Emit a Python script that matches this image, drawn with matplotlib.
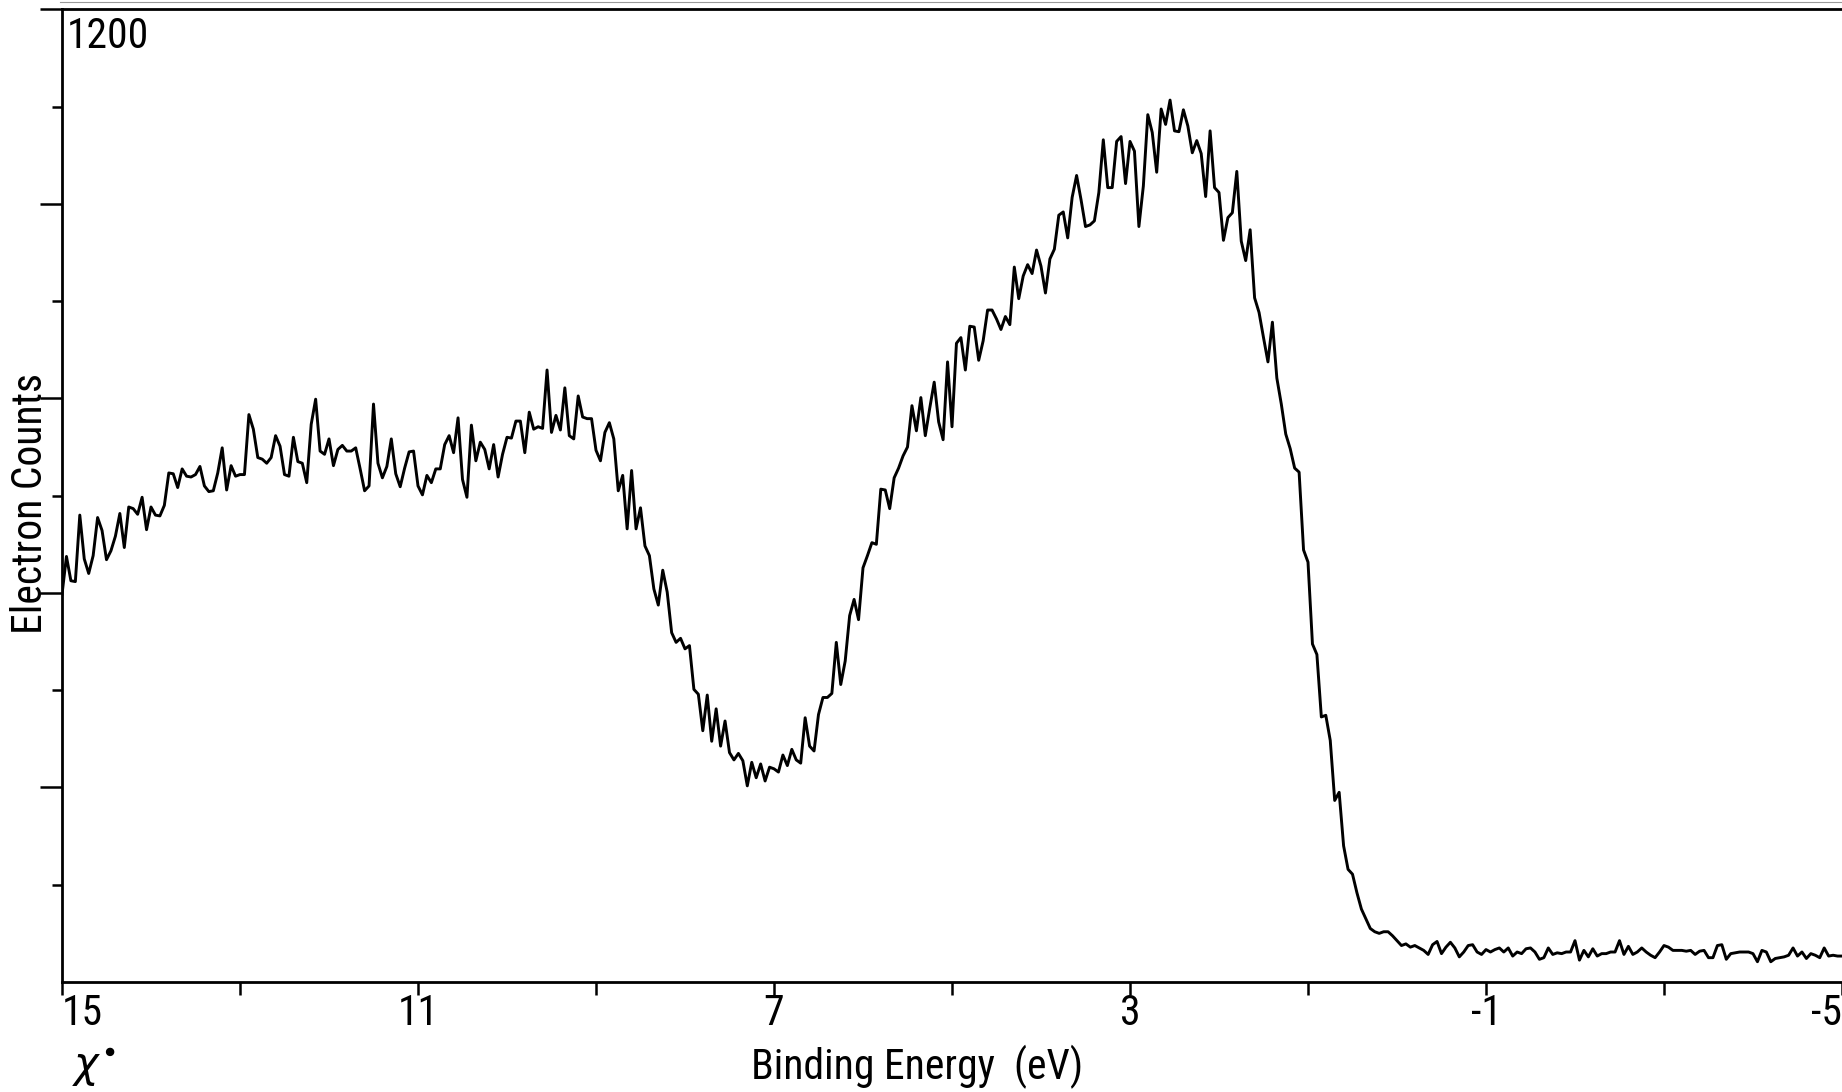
#!/usr/bin/env python3

import numpy as np
import matplotlib
matplotlib.use("Agg")
import matplotlib.pyplot as plt
from matplotlib import font_manager
from matplotlib.lines import Line2D

# spectrum: counts, one point every 0.05 eV from 15 eV down to -5 eV
START_EV = 15.0
STEP_EV = 0.05
counts = [
    478, 525, 495, 494, 576, 522, 504, 526, 573, 557,
    521, 532, 550, 578, 536, 586, 584, 577, 598, 558,
    586, 576, 575, 588, 628, 627, 610, 633, 624, 623,
    626, 636, 612, 605, 606, 628, 659, 607, 637, 624,
    626, 626, 700, 682, 647, 645, 640, 647, 674, 661,
    626, 624, 672, 642, 640, 616, 688, 719, 655, 651,
    670, 637, 657, 662, 655, 655, 659, 633, 606, 612,
    713, 640, 622, 636, 670, 627, 611, 634, 654, 655,
    612, 601, 625, 616, 633, 633, 663, 674, 653, 696,
    620, 598, 687, 643, 666, 657, 633, 663, 623, 651,
    672, 671, 692, 692, 653, 703, 682, 685, 683, 755,
    678, 699, 681, 733, 674, 670, 723, 697, 695, 695,
    656, 643, 678, 690, 670, 606, 625, 559, 631, 559,
    585, 538, 526, 485, 465, 508, 481, 431, 419, 424,
    411, 415, 361, 355, 310, 354, 297, 337, 291, 322,
    283, 274, 282, 273, 242, 271, 252, 269, 248, 265,
    263, 259, 280, 267, 287, 274, 270, 326, 291, 285,
    330, 351, 351, 356, 419, 367, 396, 452, 472, 447,
    511, 526, 542, 540, 608, 607, 584, 622, 634, 649,
    660, 711, 680, 721, 674, 708, 740, 691, 669, 765,
    685, 788, 795, 755, 809, 808, 767, 791, 829, 829,
    818, 805, 821, 811, 882, 843, 871, 885, 874, 903,
    883, 850, 892, 904, 946, 950, 918, 968, 995, 965,
    932, 934, 939, 974, 1039, 980, 980, 1037, 1043, 985,
    1037, 1025, 932, 982, 1070, 1048, 999, 1077, 1058, 1088,
    1050, 1049, 1076, 1056, 1023, 1038, 1022, 969, 1050, 980,
    974, 915, 943, 949, 1000, 914, 890, 928, 844, 826,
    795, 765, 814, 745, 713, 676, 658, 634, 629, 533,
    518, 417, 404, 327, 329, 298, 224, 234, 168, 139,
    133, 110, 90, 78, 66, 62, 60, 62, 62, 57,
    51, 45, 47, 43, 45, 42, 39, 34, 46, 50,
    35, 43, 49, 42, 31, 37, 45, 46, 37, 34,
    40, 37, 40, 42, 37, 42, 32, 37, 35, 41,
    42, 37, 28, 30, 42, 34, 36, 35, 37, 37,
    51, 27, 39, 31, 41, 32, 35, 35, 37, 37,
    51, 34, 44, 34, 37, 42, 37, 33, 30, 37,
    45, 43, 39, 39, 39, 38, 39, 34, 38, 39,
    30, 30, 45, 46, 28, 35, 36, 37, 37, 37,
    35, 25, 39, 37, 25, 29, 30, 31, 33, 42,
    32, 37, 29, 35, 33, 30, 42, 32, 33, 32,
    32,
]

XTICKS = [15, 13, 11, 9, 7, 5, 3, 1, -1, -3, -5]
XTICKLABELS = ["15", "", "11", "", "7", "", "3", "", "-1", "", "-5"]
YMAJOR = [240, 480, 720, 960, 1200]
YMINOR = [120, 360, 600, 840, 1080]

W, H = 1842, 1092


def pick_font():
    names = {f.name for f in font_manager.fontManager.ttflist}
    for name in ["Liberation Sans Narrow", "DejaVu Sans Condensed", "Roboto Condensed"]:
        if name in names:
            return name
    return "DejaVu Sans"


def plot():
    font = pick_font()
    plt.rcParams.update({"font.family": [font, "DejaVu Sans"], "font.size": 30})

    energy = START_EV - STEP_EV * np.arange(len(counts))

    fig = plt.figure(figsize=(W / 100, H / 100), dpi=100)
    # axes box in pixels: left 62, right edge of image, bottom 982, top 9
    ax = fig.add_axes([62 / W, 1 - 982 / H, (W - 62) / W, (982 - 9.3) / H])

    ax.plot(energy, counts, color="black", lw=2.1)

    ax.set_xlim(15, -5)
    ax.set_ylim(0, 1200)

    for side in ["left", "bottom", "top"]:
        ax.spines[side].set_linewidth(2.0)
    ax.spines["right"].set_visible(False)

    ax.set_xticks(XTICKS)
    ax.set_xticklabels(XTICKLABELS)
    ax.tick_params(axis="x", direction="out", length=9, width=1.8, pad=-1, labelsize=30)
    labels = ax.get_xticklabels()
    labels[0].set_horizontalalignment("left")
    labels[-1].set_horizontalalignment("right")

    ax.set_yticks(YMAJOR)
    ax.set_yticks(YMINOR, minor=True)
    ax.set_yticklabels([])
    ax.tick_params(axis="y", which="major", direction="out", length=16, width=1.8)
    ax.tick_params(axis="y", which="minor", direction="out", length=7.5, width=1.8)

    ax.set_xlabel("Binding Energy  (eV)", fontsize=30)
    ax.xaxis.set_label_coords((917 - 62) / (W - 62), (982 - 1079) / 972.7)
    ax.xaxis.label.set_verticalalignment("baseline")

    ax.set_ylabel("Electron Counts", fontsize=30)
    ax.yaxis.set_label_coords((42 - 62) / (W - 62), (982 - 504) / 972.7)
    ax.yaxis.label.set_verticalalignment("baseline")

    # scale top value written inside the frame
    fig.text(67 / W, 1 - 48 / H, "1200", fontsize=30, ha="left", va="baseline")

    # hand mark at the lower left of the sheet
    fig.text(72 / W, 1 - 1078 / H, r"$\chi^{\bullet}$", fontsize=30,
             ha="left", va="baseline")

    # faint edge of the scanned page
    fig.add_artist(Line2D([60 / W, 1], [1 - 1.5 / H] * 2, transform=fig.transFigure,
                          color="0.6", lw=0.8))

    fig.savefig("out.png", dpi=100)


if __name__ == "__main__":
    plot()
